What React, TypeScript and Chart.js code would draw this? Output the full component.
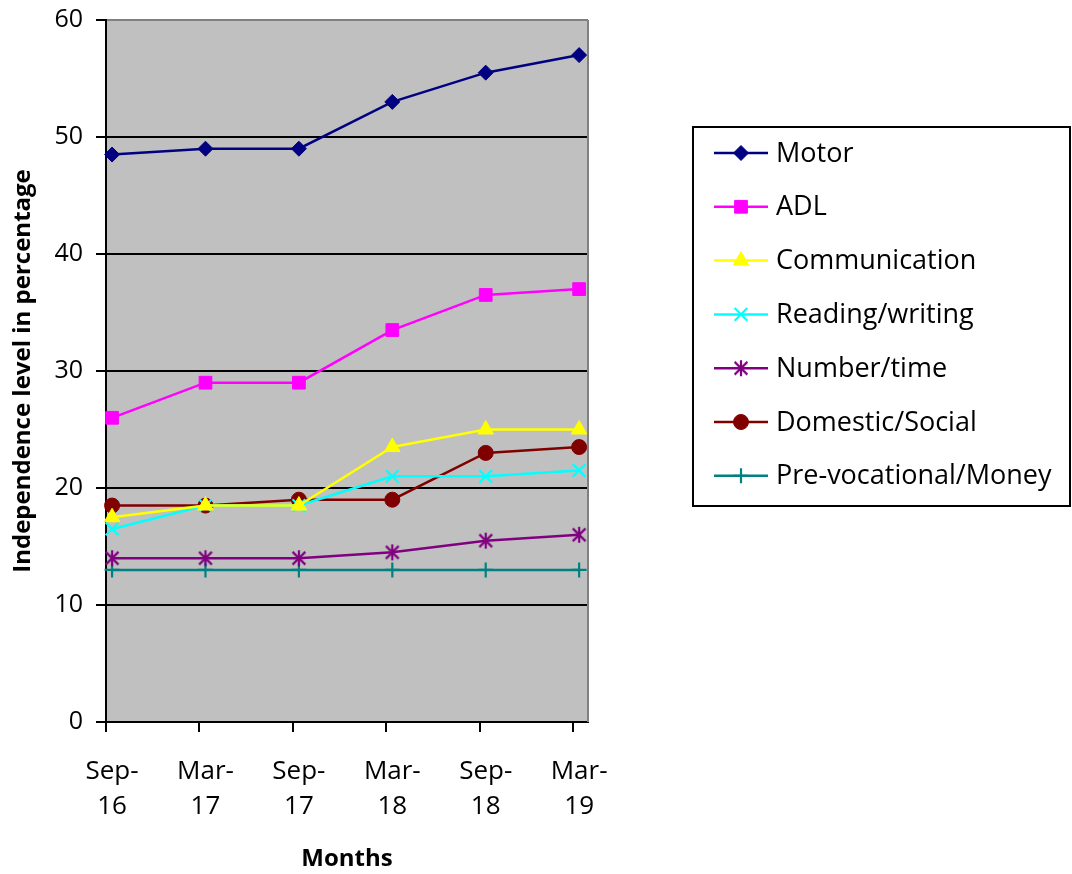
import React, { useEffect, useRef } from 'react';
import { Chart, registerables } from 'chart.js';
import { drawPoint } from 'chart.js/helpers';

Chart.register(...registerables);

const monthLabels: string[][] = [
  ['Sep-', '16'],
  ['Mar-', '17'],
  ['Sep-', '17'],
  ['Mar-', '18'],
  ['Sep-', '18'],
  ['Mar-', '19'],
];

const motor = [48.5, 49, 49, 53, 55.5, 57];
const adl = [26, 29, 29, 33.5, 36.5, 37];
const communication = [17.5, 18.5, 18.5, 23.5, 25, 25];
const readingWriting = [16.5, 18.5, 18.5, 21, 21, 21.5];
const numberTime = [14, 14, 14, 14.5, 15.5, 16];
const domesticSocial = [18.5, 18.5, 19, 19, 23, 23.5];
const preVocationalMoney = [13, 13, 13, 13, 13, 13];

const seriesNames = [
  'Motor',
  'ADL',
  'Communication',
  'Reading/writing',
  'Number/time',
  'Domestic/Social',
  'Pre-vocational/Money',
];
const seriesValues = [motor, adl, communication, readingWriting, numberTime, domesticSocial, preVocationalMoney];
const seriesColors = ['#000080', '#FF00FF', '#FFFF00', '#00FFFF', '#800080', '#800000', '#008080'];

const yTickValues = [0, 10, 20, 30, 40, 50, 60];

const FONT = "'Open Sans', sans-serif";

function makeAsterisk(color: string, r: number): HTMLCanvasElement {
  const size = Math.ceil(r * 2 + 4);
  const c = document.createElement('canvas');
  c.width = size;
  c.height = size;
  const g = c.getContext('2d')!;
  const m = size / 2;
  g.strokeStyle = color;
  g.lineWidth = 2.2;
  g.beginPath();
  const d = r * 0.8;
  g.moveTo(m - d, m - d);
  g.lineTo(m + d, m + d);
  g.moveTo(m + d, m - d);
  g.lineTo(m - d, m + d);
  g.moveTo(m, m - r);
  g.lineTo(m, m + r);
  g.stroke();
  return c;
}

export default function App() {
  const canvasRef = useRef<HTMLCanvasElement | null>(null);

  useEffect(() => {
    const canvas = canvasRef.current;
    if (!canvas) return;

    const asterisk = makeAsterisk(seriesColors[4], 8);
    const pointStyles: any[] = ['rectRot', 'rect', 'triangle', 'crossRot', asterisk, 'circle', 'cross'];
    const pointRadii = [7.5, 9, 9, 9, 9, 7.5, 7.5];
    const pointBorders = [1, 1, 1, 2.2, 2.2, 1, 2.2];

    const xMin = -0.065;
    const xMax = 5.095;
    const tickShift = -0.065;

    const plotBg = {
      id: 'plotBg',
      beforeDraw(chart: any) {
        const { ctx, chartArea } = chart;
        const { left, top, right, bottom } = chartArea;
        ctx.save();
        ctx.fillStyle = '#C0C0C0';
        ctx.fillRect(left, top, right - left, bottom - top);
        ctx.restore();
      },
      beforeDatasetsDraw(chart: any) {
        const { ctx, chartArea } = chart;
        ctx.save();
        ctx.strokeStyle = '#808080';
        ctx.lineWidth = 2;
        ctx.beginPath();
        ctx.moveTo(chartArea.right, chartArea.top);
        ctx.lineTo(chartArea.right, chartArea.bottom);
        ctx.stroke();
        ctx.restore();
      },
    };

    const boxLegend = {
      id: 'boxLegend',
      afterDraw(chart: any) {
        const { ctx } = chart;
        const boxL = 693;
        const boxT = 127;
        const boxR = 1070;
        const boxB = 506;
        ctx.save();
        ctx.strokeStyle = '#000';
        ctx.lineWidth = 2;
        ctx.strokeRect(boxL, boxT, boxR - boxL, boxB - boxT);
        chart.data.datasets.forEach((ds: any, i: number) => {
          const y = 153 + i * 53.8;
          ctx.strokeStyle = ds.borderColor;
          ctx.lineWidth = 2.5;
          ctx.beginPath();
          ctx.moveTo(714, y);
          ctx.lineTo(768, y);
          ctx.stroke();
          ctx.fillStyle = ds.pointBackgroundColor;
          ctx.strokeStyle = ds.borderColor;
          ctx.lineWidth = ds.pointBorderWidth;
          drawPoint(ctx, {
            pointStyle: ds.pointStyle,
            radius: ds.pointRadius,
            rotation: 0,
            borderWidth: ds.pointBorderWidth,
          } as any, 741, y);
          ctx.fillStyle = '#000';
          ctx.font = `27px ${FONT}`;
          ctx.textBaseline = 'middle';
          ctx.textAlign = 'left';
          ctx.fillText(ds.label, 776, y + 1);
        });
        ctx.restore();
      },
    };

    const chart = new Chart(canvas, {
      type: 'line',
      data: {
        datasets: seriesNames.map((name, i) => ({
          label: name,
          data: seriesValues[i].map((v, k) => ({ x: k, y: v })),
          borderColor: seriesColors[i],
          backgroundColor: seriesColors[i],
          pointBackgroundColor: seriesColors[i],
          pointBorderColor: seriesColors[i],
          pointStyle: pointStyles[i],
          pointRadius: pointRadii[i],
          pointBorderWidth: pointBorders[i],
          borderWidth: 2.5,
          tension: 0,
          clip: false as any,
          xAxisID: 'x',
          yAxisID: 'y',
        })),
      },
      options: {
        responsive: false,
        animation: false,
        events: [],
        layout: { padding: { left: 0, right: 484, top: 20, bottom: 0 } },
        plugins: {
          legend: { display: false },
          tooltip: { enabled: false },
        },
        scales: {
          x2: {
            type: 'linear',
            position: 'bottom',
            weight: 0,
            min: xMin,
            max: xMax,
            afterBuildTicks: (s: any) => {
              s.ticks = monthLabels.map((_, i) => ({ value: i + tickShift }));
            },
            ticks: { display: false },
            grid: {
              drawOnChartArea: false,
              drawTicks: true,
              tickLength: 10,
              color: '#000',
              lineWidth: 2,
            },
            border: { display: true, color: '#000', width: 2 },
            afterFit: (s: any) => {
              s.height = 10;
              s.paddingLeft = 0;
              s.paddingRight = 0;
            },
          },
          x: {
            type: 'linear',
            position: 'bottom',
            weight: 1,
            min: xMin,
            max: xMax,
            afterBuildTicks: (s: any) => {
              s.ticks = monthLabels.map((_, i) => ({ value: i }));
            },
            ticks: {
              callback: (v: any) => monthLabels[Math.round(Number(v))] ?? '',
              font: { family: FONT, size: 26, lineHeight: 1.36 },
              color: '#000',
              padding: 22,
              maxRotation: 0,
              minRotation: 0,
              autoSkip: false,
            },
            grid: { display: false, drawTicks: false },
            border: { display: false },
            title: {
              display: true,
              text: 'Months',
              font: { family: FONT, size: 24, weight: 'bold' },
              color: '#000',
              padding: { top: 0, bottom: 0 },
            },
            afterFit: (s: any) => {
              s.height = 142;
              s.paddingLeft = 0;
              s.paddingRight = 0;
            },
          },
          y: {
            type: 'linear',
            position: 'left',
            min: 0,
            max: 60,
            afterBuildTicks: (s: any) => {
              s.ticks = yTickValues.map((v) => ({ value: v }));
            },
            ticks: {
              font: { family: FONT, size: 25 },
              color: '#000',
              padding: 13,
            },
            grid: {
              color: (c: any) => (c.tick && c.tick.value === 60 ? '#808080' : '#000'),
              tickColor: '#000',
              lineWidth: 2,
              tickLength: 10,
              drawTicks: true,
            },
            border: { display: true, color: '#000', width: 2 },
            title: {
              display: true,
              text: 'Independence level in percentage',
              font: { family: FONT, size: 24, weight: 'bold' },
              color: '#000',
              padding: { top: 9, bottom: 0 },
            },
            afterFit: (s: any) => {
              s.width = 106;
              s.paddingTop = 0;
              s.paddingBottom = 0;
            },
          },
        },
      },
      plugins: [plotBg, boxLegend],
    });

    return () => {
      chart.destroy();
    };
  }, []);

  return (
    <div style={{ position: 'absolute', left: 0, top: 0, width: 1072, height: 874, background: '#fff' }}>
      <canvas ref={canvasRef} width={1072} height={874} style={{ display: 'block', width: 1072, height: 874 }} />
    </div>
  );
}
